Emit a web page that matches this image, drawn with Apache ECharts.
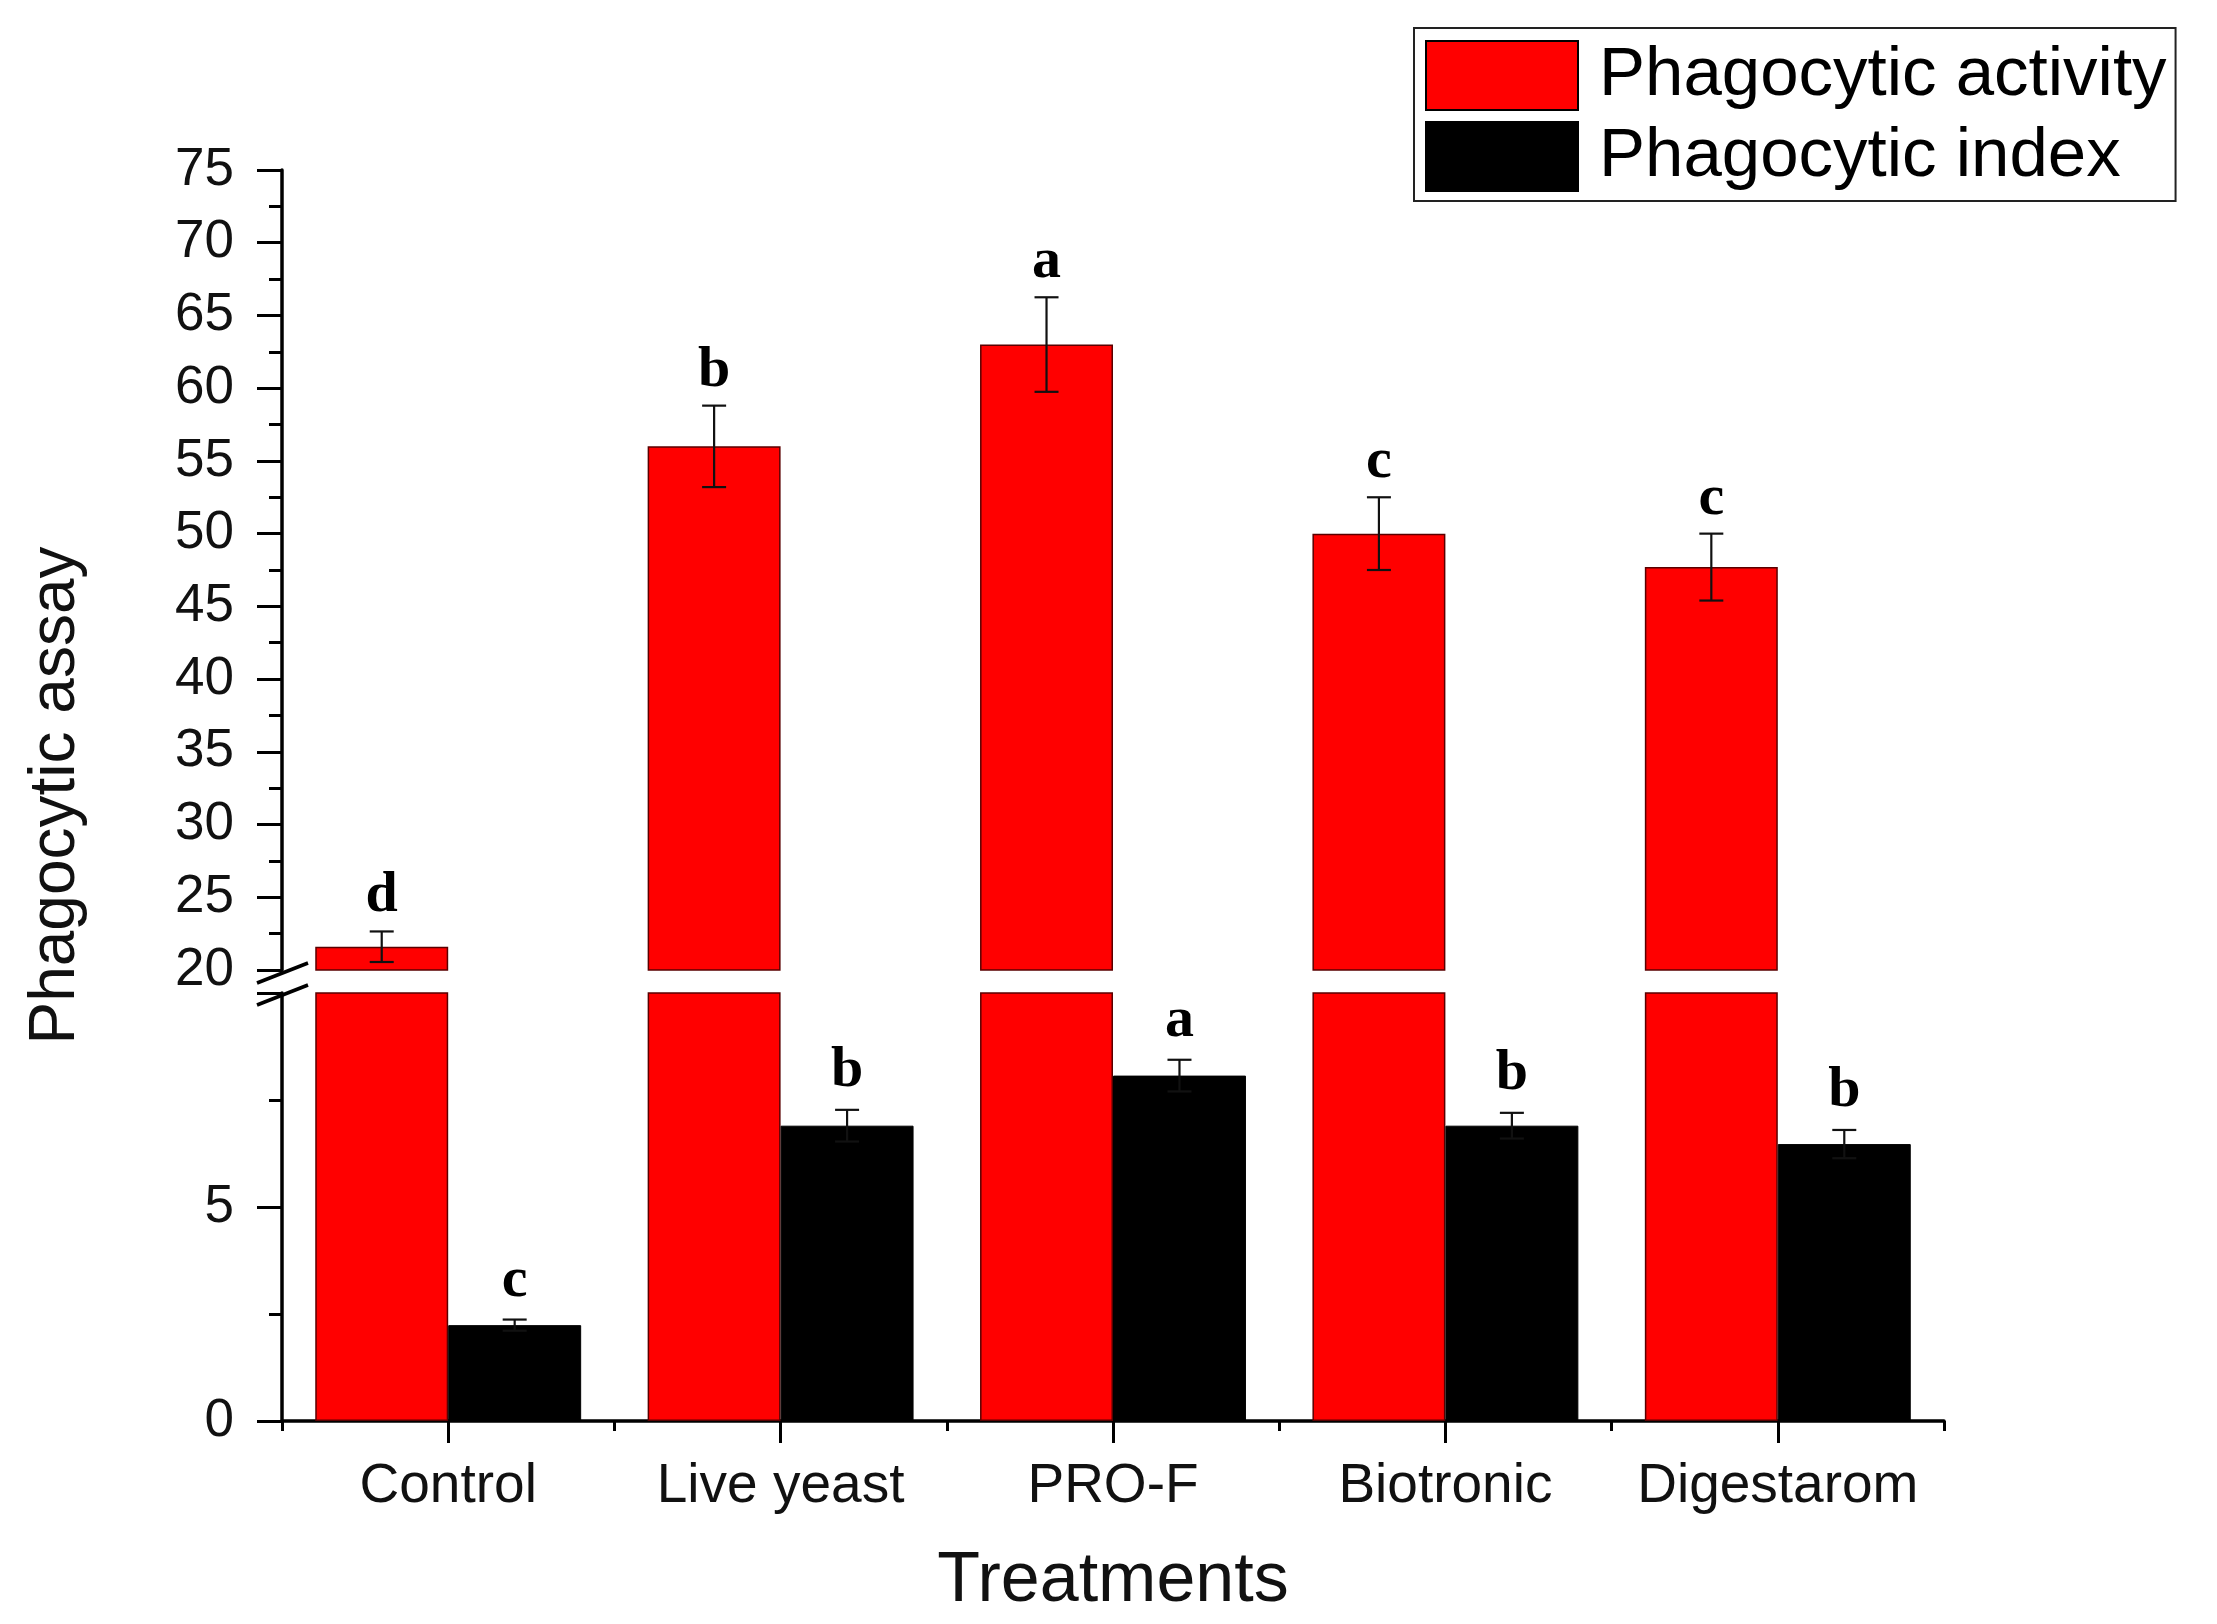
<!DOCTYPE html>
<html>
<head>
<meta charset="utf-8">
<script src="https://cdn.jsdelivr.net/npm/echarts@6/dist/echarts.min.js"></script>
<style>
html,body{margin:0;padding:0;background:#fff;}
#chart{width:2217px;height:1624px;}
</style>
</head>
<body>
<div id="chart"></div>
<script>
const categories = ['Control', 'Live yeast', 'PRO-F', 'Biotronic', 'Digestarom'];
const activityValues = [21.6, 56.0, 63.0, 50.0, 47.7];
const activityErrors = [1.05, 2.8, 3.25, 2.5, 2.3];
const activityLetters = ['d', 'b', 'a', 'c', 'c'];
const indexValues = [2.24, 6.9, 8.07, 6.9, 6.47];
const indexErrors = [0.13, 0.37, 0.37, 0.3, 0.33];
const indexLetters = ['c', 'b', 'a', 'b', 'b'];
const upperTicks = {min: 20, max: 75, interval: 5};
const lowerTicks = {min: 0, max: 10, interval: 5};
const seriesNames = ['Phagocytic activity', 'Phagocytic index'];

const SANS = '"Liberation Sans", Arial, sans-serif';
const SERIF = '"Liberation Serif", "Times New Roman", serif';
const RED = '#ff0000';

const chart = echarts.init(document.getElementById('chart'), null, {renderer: 'canvas'});

function errData(vals, errs, letters) {
  return vals.map((v, i) => [i, v, errs[i]]);
}

function makeErrRender(side, gap, letters) {
  return function (params, api) {
    const i = api.value(0), v = api.value(1), e = api.value(2);
    const letter = letters[i];
    const cw = api.size([1, 0])[0];
    const off = side * 0.2 * cw;
    const top = api.coord([i, v + e]);
    const bot = api.coord([i, v - e]);
    const x = top[0] + off;
    const cap = 12;
    const ls = {stroke: '#111', lineWidth: 2.2};
    return {
      type: 'group',
      children: [
        {type: 'line', shape: {x1: x, y1: top[1], x2: x, y2: bot[1]}, style: ls},
        {type: 'line', shape: {x1: x - cap, y1: top[1], x2: x + cap, y2: top[1]}, style: ls},
        {type: 'line', shape: {x1: x - cap, y1: bot[1], x2: x + cap, y2: bot[1]}, style: ls},
        {type: 'text', style: {text: letter, x: x, y: top[1] - gap, align: 'center', verticalAlign: 'bottom',
          fontFamily: SERIF, fontWeight: 'bold', fontSize: 58, fill: '#000'}}
      ]
    };
  };
}

const axisLineStyle = {color: '#000', width: 3.5};
const tickStyle = {color: '#000', width: 3};

const option = {
  animation: false,
  backgroundColor: '#fff',
  grid: [
    {left: 282, right: 273, top: 170, height: 800},
    {left: 282, right: 273, top: 993, bottom: 203}
  ],
  legend: {
    data: seriesNames,
    orient: 'vertical',
    left: 1414, top: 28,
    padding: [12, 9, 9, 11],
    itemWidth: 152, itemHeight: 69, itemGap: 10,
    icon: 'rect',
    borderColor: '#222', borderWidth: 2,
    backgroundColor: '#fff',
    itemStyle: {borderColor: '#000', borderWidth: 2},
    textStyle: {fontFamily: SANS, fontSize: 69, color: '#000', padding: [0, 0, 0, 16]},
    selectedMode: false
  },
  xAxis: [
    {gridIndex: 0, type: 'category', data: categories, show: false},
    {gridIndex: 1, type: 'category', data: categories, position: 'bottom',
      axisLine: {show: true, lineStyle: axisLineStyle},
      axisTick: {show: true, interval: 0, length: 10, lineStyle: tickStyle, alignWithLabel: false},
      axisLabel: {show: false}, splitLine: {show: false}},
    {gridIndex: 1, type: 'category', data: categories, position: 'bottom',
      axisLine: {show: false},
      axisTick: {show: true, interval: 0, length: 22, alignWithLabel: true, lineStyle: tickStyle},
      axisLabel: {show: true, interval: 0, fontFamily: SANS, fontSize: 55, color: '#111', margin: 38},
      name: 'Treatments', nameLocation: 'middle', nameGap: 126,
      nameTextStyle: {fontFamily: SANS, fontSize: 70, color: '#111'},
      splitLine: {show: false}}
  ],
  yAxis: [
    {gridIndex: 0, type: 'value', min: upperTicks.min, max: upperTicks.max, interval: upperTicks.interval,
      axisLine: {show: true, lineStyle: axisLineStyle},
      axisTick: {show: true, length: 25, lineStyle: tickStyle},
      minorTick: {show: true, splitNumber: 2, length: 13, lineStyle: tickStyle},
      axisLabel: {fontFamily: SANS, fontSize: 53, color: '#111', margin: 48},
      splitLine: {show: false}, minorSplitLine: {show: false}},
    {gridIndex: 1, type: 'value', min: lowerTicks.min, max: lowerTicks.max, interval: lowerTicks.interval,
      axisLine: {show: true, lineStyle: axisLineStyle},
      axisTick: {show: true, length: 25, lineStyle: tickStyle},
      minorTick: {show: true, splitNumber: 2, length: 13, lineStyle: tickStyle},
      axisLabel: {fontFamily: SANS, fontSize: 53, color: '#111', margin: 48, showMaxLabel: false},
      splitLine: {show: false}, minorSplitLine: {show: false}}
  ],
  series: [
    {name: seriesNames[0], type: 'bar', xAxisIndex: 0, yAxisIndex: 0, data: activityValues,
      barGap: '0%', barCategoryGap: '20%', itemStyle: {color: RED, borderColor: '#5a0000', borderWidth: 1.5}},
    {name: seriesNames[1], type: 'bar', xAxisIndex: 0, yAxisIndex: 0, data: indexValues,
      barGap: '0%', barCategoryGap: '20%', itemStyle: {color: '#000', borderColor: '#000', borderWidth: 1}},
    {name: seriesNames[0], type: 'bar', xAxisIndex: 1, yAxisIndex: 1, data: activityValues,
      barGap: '0%', barCategoryGap: '20%', itemStyle: {color: RED, borderColor: '#5a0000', borderWidth: 1.5}},
    {name: seriesNames[1], type: 'bar', xAxisIndex: 1, yAxisIndex: 1, data: indexValues,
      barGap: '0%', barCategoryGap: '20%', itemStyle: {color: '#000', borderColor: '#000', borderWidth: 1}},
    {type: 'custom', xAxisIndex: 0, yAxisIndex: 0, data: errData(activityValues, activityErrors),
      renderItem: makeErrRender(-1, 6, activityLetters), clip: false, z: 10},
    {type: 'custom', xAxisIndex: 1, yAxisIndex: 1, data: errData(indexValues, indexErrors),
      renderItem: makeErrRender(1, 10, indexLetters), clip: false, z: 10}
  ]
};
chart.setOption(option);

// y-axis title and break marks
const pUp = chart.convertToPixel({xAxisIndex: 0, yAxisIndex: 0}, [0, upperTicks.min]);
const pLo = chart.convertToPixel({xAxisIndex: 1, yAxisIndex: 1}, [0, lowerTicks.max]);
const gridRect = chart.getModel().getComponent('grid', 0).coordinateSystem.getRect();
const ax = gridRect.x;
const y1 = pUp[1] + 3, y2 = pLo[1] + 2;
const slash = (cy) => ({type: 'line', shape: {x1: ax - 25, y1: cy + 10, x2: ax + 26, y2: cy - 10},
  style: {stroke: '#000', lineWidth: 3.5}, z: 100});
chart.setOption({
  graphic: [
    slash(y1), slash(y2),
    {type: 'text', x: 56, y: (170 + 1421) / 2, rotation: Math.PI / 2,
      style: {text: 'Phagocytic assay', fontFamily: SANS, fontSize: 64, fill: '#111', align: 'center', verticalAlign: 'middle'}}
  ]
});
</script>
</body>
</html>
